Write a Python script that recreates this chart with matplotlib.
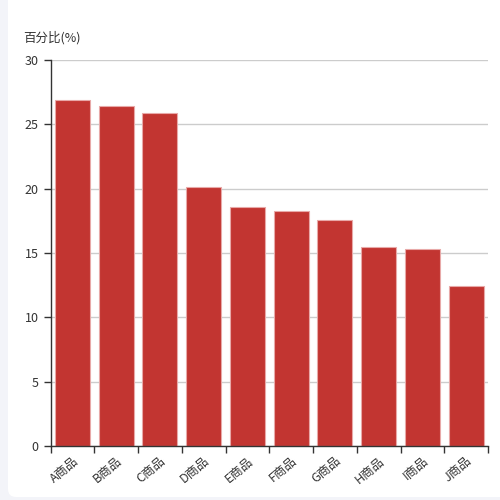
import matplotlib
matplotlib.use("Agg")
import matplotlib.pyplot as plt
from matplotlib.patches import FancyBboxPatch
from matplotlib.ticker import FixedLocator, NullFormatter
import numpy as np

plt.rcParams['font.family'] = ['Noto Sans CJK SC', 'DejaVu Sans']

categories = ['A商品', 'B商品', 'C商品', 'D商品', 'E商品', 'F商品', 'G商品', 'H商品', 'I商品', 'J商品']
values = [26.9, 26.4, 25.9, 20.1, 18.6, 18.3, 17.6, 15.5, 15.3, 12.4]
y_ticks = [0, 5, 10, 15, 20, 25, 30]
y_name = '百分比(%)'

fig = plt.figure(figsize=(5, 5), dpi=100)
fig.patch.set_facecolor('#f3f4f9')
card = FancyBboxPatch((8/500, 3/500), 1.2, 1.2, boxstyle="round,pad=0,rounding_size=0.016",
                      transform=fig.transFigure, facecolor='white', edgecolor='none', zorder=-5)
fig.patches.append(card)

ax = fig.add_axes([50.5/500, 1-446/500, (488-50.5)/500, (446-60)/500])
ax.set_zorder(2)
ax.set_facecolor('none')
x = np.arange(len(categories))
ax.bar(x, values, width=0.8, color='#c23531', edgecolor='#e8a9a8', linewidth=0.8, zorder=3)
ax.set_xlim(-0.5, len(categories) - 0.5)
ax.set_ylim(0, 30)
ax.set_yticks(y_ticks)
ax.grid(axis='y', color='#cccccc', linewidth=1, zorder=0)
ax.set_axisbelow(True)
for s in ['top', 'right']:
    ax.spines[s].set_visible(False)
for s in ['left', 'bottom']:
    ax.spines[s].set_color('#333333')
    ax.spines[s].set_linewidth(1)
    ax.spines[s].set_zorder(4)
ax.tick_params(axis='y', colors='#333333', labelsize=9, length=5, width=1, labelcolor='#333333')
ax.xaxis.set_major_locator(FixedLocator(np.arange(-0.5, len(categories), 1)))
ax.xaxis.set_major_formatter(NullFormatter())
ax.xaxis.set_minor_locator(FixedLocator(x))
ax.set_xticklabels(categories, minor=True, rotation=40, ha='right', rotation_mode='anchor')
ax.tick_params(axis='x', which='major', length=5, width=1, color='#333333')
ax.tick_params(axis='x', which='minor', length=0, labelsize=9, labelcolor='#333333', pad=6)

fig.text(23/500, 1-38/500, y_name, fontsize=9, color='#333333', va='center', ha='left', zorder=5)

fig.savefig('out.png', dpi=100)
